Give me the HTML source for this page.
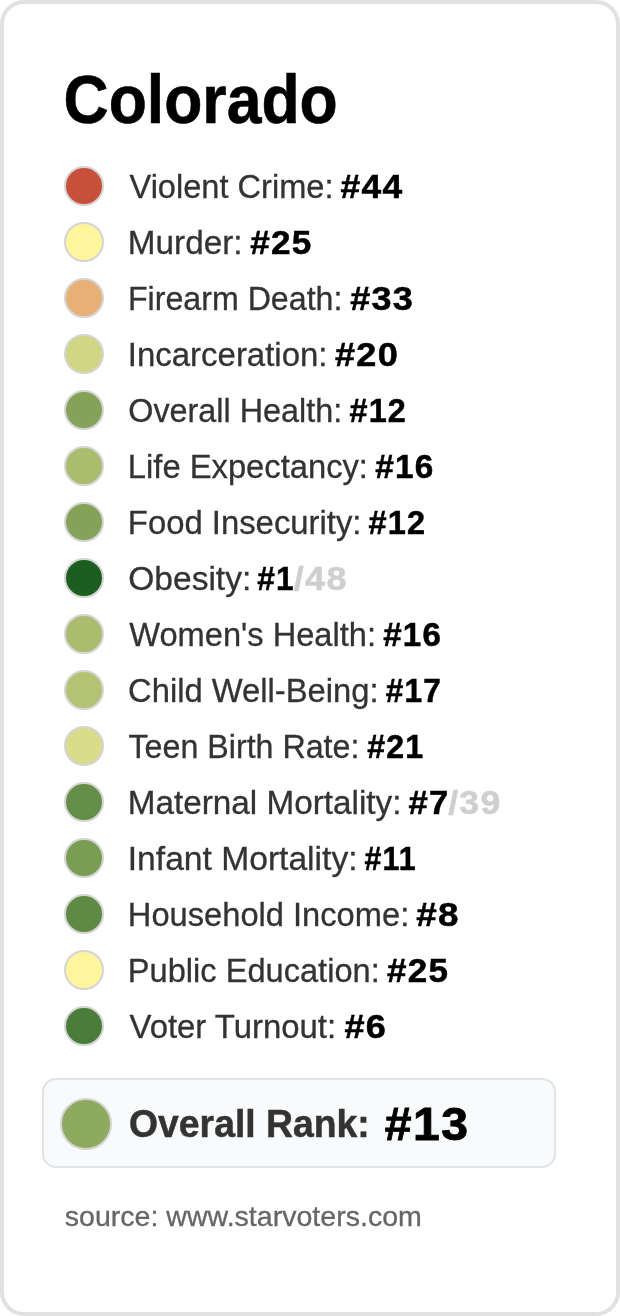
<!DOCTYPE html>
<html lang="en">
<head>
<meta charset="utf-8">
<title>Colorado</title>
<style>
*{box-sizing:border-box;margin:0;padding:0}
html,body{width:620px;height:1316px;background:#fff;overflow:hidden}
body{font-family:"Liberation Sans",sans-serif;color:#333}
.card{position:absolute;left:0;top:0;width:620px;height:1316px;border:4px solid #e1e1e1;border-radius:24px;background:#fff;overflow:hidden}
ul{list-style:none}
.row{position:absolute;left:0;width:612px;height:56px;font-size:33px;line-height:33px}
.t{position:absolute;white-space:nowrap;transform-origin:0 0;font-style:normal}
span.t,p.t{font-weight:400;color:#333;-webkit-text-stroke:0.3px currentColor}
b.t,h1.t{font-weight:700;color:#000;-webkit-text-stroke:0.5px currentColor}
.row b.t{letter-spacing:1.2px}
.row b.g{color:#cfcfcf}
.dot{position:absolute;left:60px;top:8px;width:40px;height:40px;border-radius:50%;border:2px solid #d4d4d5}
.overall{position:absolute;left:38px;top:1074px;width:514px;height:90px;border:2px solid #e2e3e5;border-radius:14px;background:#f9fafb}
.overall .dot{left:16px;top:18px;width:52px;height:52px;background:#8daa5e}
#ov{color:#333}
#nov{letter-spacing:1.5px;-webkit-text-stroke:0.9px currentColor}
#title{-webkit-text-stroke:0.6px currentColor}
#src{color:#666}
</style>
</head>
<body>
<div class="card">
<h1 class="t" id="title" style="left:59px;top:60px;font-size:68.2px;line-height:68.2px;transform:translate(0.55px,0.67px) scaleX(0.9163)">Colorado</h1>
<ul>
<li class="row" style="top:154px"><i class="dot" style="background:#c8503b"></i><span class="t" id="l0" style="left:125px;top:12px;transform:translate(0.50px,0.07px) scaleX(0.9870)">Violent Crime:</span> <b class="t" id="n0" style="left:336px;top:12px;transform:translate(0.45px,0.07px) scaleX(1.0726)">#44</b></li>
<li class="row" style="top:210px"><i class="dot" style="background:#fff59d"></i><span class="t" id="l1" style="left:123px;top:12px;transform:translate(0.80px,0.07px) scaleX(1.0089)">Murder:</span> <b class="t" id="n1" style="left:246px;top:12px;transform:translate(0.20px,0.07px) scaleX(1.0647)">#25</b></li>
<li class="row" style="top:266px"><i class="dot" style="background:#e8b074"></i><span class="t" id="l2" style="left:123px;top:12px;transform:translate(0.89px,0.07px) scaleX(0.9748)">Firearm Death:</span> <b class="t" id="n2" style="left:346px;top:12px;transform:translate(0.19px,0.07px) scaleX(1.0914)">#33</b></li>
<li class="row" style="top:322px"><i class="dot" style="background:#d0d683"></i><span class="t" id="l3" style="left:123px;top:12px;transform:translate(0.83px,0.07px) scaleX(0.9986)">Incarceration:</span> <b class="t" id="n3" style="left:330px;top:12px;transform:translate(0.94px,0.07px) scaleX(1.0925)">#20</b></li>
<li class="row" style="top:378px"><i class="dot" style="background:#84a359"></i><span class="t" id="l4" style="left:124px;top:12px;transform:translate(0.28px,0.07px) scaleX(0.9800)">Overall Health:</span> <b class="t" id="n4" style="left:345px;top:12px;transform:translate(0.49px,0.07px) scaleX(0.9800)">#12</b></li>
<li class="row" style="top:434px"><i class="dot" style="background:#aabc6e"></i><span class="t" id="l5" style="left:123px;top:12px;transform:translate(0.84px,0.07px) scaleX(0.9917)">Life Expectancy:</span> <b class="t" id="n5" style="left:371px;top:12px;transform:translate(0.23px,0.07px) scaleX(1.0112)">#16</b></li>
<li class="row" style="top:490px"><i class="dot" style="background:#84a359"></i><span class="t" id="l6" style="left:123px;top:12px;transform:translate(0.83px,0.07px) scaleX(0.9952)">Food Insecurity:</span> <b class="t" id="n6" style="left:364px;top:12px;transform:translate(0.49px,0.07px) scaleX(0.9854)">#12</b></li>
<li class="row" style="top:546px"><i class="dot" style="background:#1b5e20"></i><span class="t" id="l7" style="left:124px;top:12px;transform:translate(0.23px,0.07px) scaleX(1.0166)">Obesity:</span> <b class="t" id="n7" style="left:253px;top:12px;transform:translate(0.21px,0.07px) scaleX(0.9571)">#1</b><b class="t g" id="g7" style="left:289px;top:12px;transform:translate(0.75px,0.07px) scaleX(1.0906)">/48</b></li>
<li class="row" style="top:602px"><i class="dot" style="background:#aabc6e"></i><span class="t" id="l8" style="left:125px;top:12px;transform:translate(0.30px,0.07px) scaleX(0.9881)">Women&#39;s Health:</span> <b class="t" id="n8" style="left:379px;top:12px;transform:translate(0.23px,0.07px) scaleX(1.0023)">#16</b></li>
<li class="row" style="top:658px"><i class="dot" style="background:#b3c373"></i><span class="t" id="l9" style="left:124px;top:12px;transform:translate(0.07px,0.07px) scaleX(0.9917)">Child Well-Being:</span> <b class="t" id="n9" style="left:381px;top:12px;transform:translate(0.76px,0.07px) scaleX(0.9576)">#17</b></li>
<li class="row" style="top:714px"><i class="dot" style="background:#d9dc88"></i><span class="t" id="l10" style="left:124px;top:12px;transform:translate(0.50px,0.07px) scaleX(0.9759)">Teen Birth Rate:</span> <b class="t" id="n10" style="left:363px;top:12px;transform:translate(0.20px,0.07px) scaleX(0.9729)">#21</b></li>
<li class="row" style="top:770px"><i class="dot" style="background:#658f49"></i><span class="t" id="l11" style="left:123px;top:12px;transform:translate(0.70px,0.07px) scaleX(1.0088)">Maternal Mortality:</span> <b class="t" id="n11" style="left:404px;top:12px;transform:translate(0.46px,0.07px) scaleX(1.0485)">#7</b><b class="t g" id="g11" style="left:444px;top:12px;transform:translate(0.20px,0.07px) scaleX(1.0769)">/39</b></li>
<li class="row" style="top:826px"><i class="dot" style="background:#7a9d54"></i><span class="t" id="l12" style="left:123px;top:12px;transform:translate(0.77px,0.07px) scaleX(1.0185)">Infant Mortality:</span> <b class="t" id="n12" style="left:360px;top:12px;transform:translate(0.53px,0.07px) scaleX(0.9208)">#11</b></li>
<li class="row" style="top:882px"><i class="dot" style="background:#5e8a44"></i><span class="t" id="l13" style="left:123px;top:12px;transform:translate(0.85px,0.07px) scaleX(0.9895)">Household Income:</span> <b class="t" id="n13" style="left:412px;top:12px;transform:translate(0.18px,0.07px) scaleX(1.1143)">#8</b></li>
<li class="row" style="top:938px"><i class="dot" style="background:#fff59d"></i><span class="t" id="l14" style="left:123px;top:12px;transform:translate(0.85px,0.07px) scaleX(0.9876)">Public Education:</span> <b class="t" id="n14" style="left:382px;top:12px;transform:translate(0.95px,0.07px) scaleX(1.0602)">#25</b></li>
<li class="row" style="top:994px"><i class="dot" style="background:#4a7d3a"></i><span class="t" id="l15" style="left:125px;top:12px;transform:translate(0.50px,0.07px) scaleX(0.9968)">Voter Turnout:</span> <b class="t" id="n15" style="left:340px;top:12px;transform:translate(0.44px,0.07px) scaleX(1.0938)">#6</b></li>
</ul>
<div class="overall"><i class="dot"></i><b class="t" id="ov" style="left:85px;top:24px;font-size:39.2px;line-height:39.2px;transform:translate(0.03px,0.22px) scaleX(0.9527)">Overall Rank:</b> <b class="t" id="nov" style="left:340px;top:20px;font-size:46.5px;line-height:46.5px;transform:translate(0.65px,0.84px) scaleX(1.0331)">#13</b></div>
<p class="t" id="src" style="left:60px;top:1197px;font-size:28.5px;line-height:28.5px;transform:translate(0.75px,0.97px) scaleX(1.0022)">source: www.starvoters.com</p>
</div>
</body>
</html>
